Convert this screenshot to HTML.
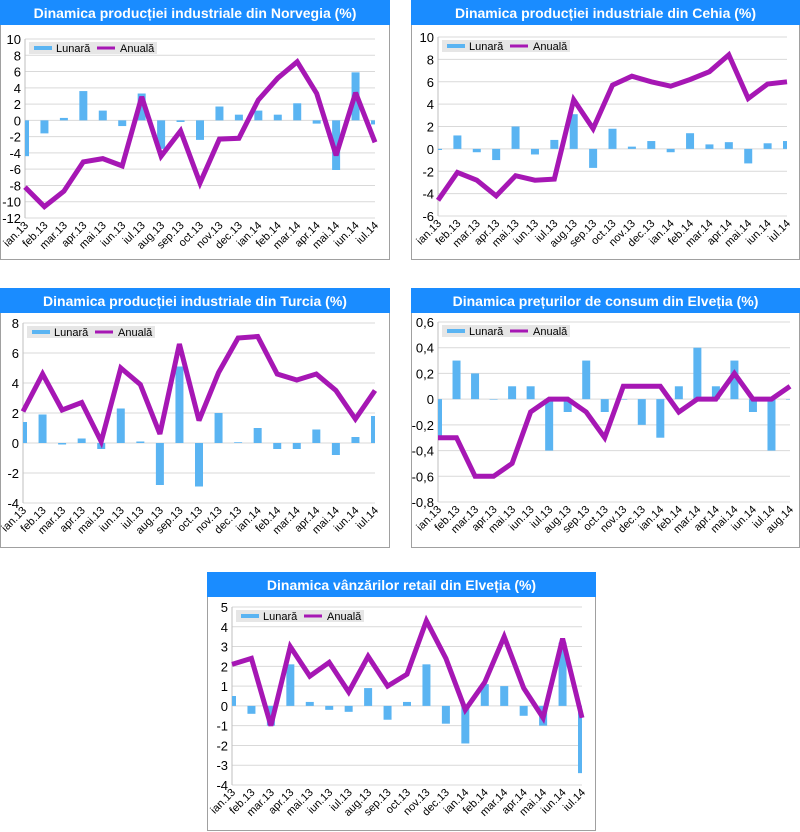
<!DOCTYPE html>
<html><head><meta charset="utf-8"><style>
html,body{margin:0;padding:0;background:#fff;}
svg{display:block;font-family:"Liberation Sans",sans-serif;}
</style></head><body>
<svg id="root" width="800" height="832" viewBox="0 0 800 832" xmlns="http://www.w3.org/2000/svg"></svg>
<script>
const cats19=["ian.13","feb.13","mar.13","apr.13","mai.13","iun.13","iul.13","aug.13","sep.13","oct.13","nov.13","dec.13","ian.14","feb.14","mar.14","apr.14","mai.14","iun.14","iul.14"];
const cats20=cats19.concat(["aug.14"]);

const norAnnual=[-8.2,-10.6,-8.7,-5.1,-4.7,-5.6,2.9,-4.4,-1.3,-7.7,-2.3,-2.2,2.5,5.2,7.2,3.3,-4.3,3.4,-2.7];
const norMonthly=[-4.4,-1.6,0.3,3.6,1.2,-0.7,3.3,-3.5,-0.2,-2.4,1.7,0.7,1.2,0.7,2.1,-0.4,-6.1,5.9,-0.5];
const norTicks=[10,8,6,4,2,0,-2,-4,-6,-8,-10,-12];

const czAnnual=[-4.6,-2.1,-2.8,-4.2,-2.4,-2.8,-2.7,4.4,1.8,5.7,6.5,6.0,5.6,6.2,6.9,8.4,4.5,5.8,6.0];
const czMonthly=[-0.1,1.2,-0.3,-1.0,2.0,-0.5,0.8,3.1,-1.7,1.8,0.2,0.7,-0.3,1.4,0.4,0.6,-1.3,0.5,0.7];
const czTicks=[10,8,6,4,2,0,-2,-4,-6];

const trAnnual=[2.1,4.6,2.2,2.7,0.1,5.0,3.9,0.6,6.6,1.5,4.7,7.0,7.1,4.6,4.2,4.6,3.5,1.6,3.5];
const trMonthly=[1.4,1.9,-0.1,0.3,-0.4,2.3,0.1,-2.8,5.1,-2.9,2.0,0.05,1.0,-0.4,-0.4,0.9,-0.8,0.4,1.8];
const trTicks=[8,6,4,2,0,-2,-4];

const cpiAnnual=[-0.3,-0.3,-0.6,-0.6,-0.5,-0.1,0,0,-0.1,-0.3,0.1,0.1,0.1,-0.1,0,0,0.2,0,0,0.1];
const cpiMonthly=[-0.3,0.3,0.2,0,0.1,0.1,-0.4,-0.1,0.3,-0.1,0,-0.2,-0.3,0.1,0.4,0.1,0.3,-0.1,-0.4,0];
const cpiTicks=["0,6","0,4","0,2","0","-0,2","-0,4","-0,6","-0,8"];
const cpiTickVals=[0.6,0.4,0.2,0,-0.2,-0.4,-0.6,-0.8];

const rtAnnual=[2.1,2.4,-1.0,3.0,1.5,2.2,0.7,2.5,1.0,1.6,4.3,2.4,-0.2,1.2,3.5,0.9,-0.6,3.4,-0.6];
const rtMonthly=[0.5,-0.4,-1.0,2.1,0.2,-0.2,-0.3,0.9,-0.7,0.2,2.1,-0.9,-1.9,1.1,1.0,-0.5,-1.0,3.2,-3.4];
const rtTicks=[5,4,3,2,1,0,-1,-2,-3,-4];

const NS="http://www.w3.org/2000/svg";
const root=document.getElementById('root');
function mk(tag,attrs,parent){const e=document.createElementNS(NS,tag);for(const k in attrs)e.setAttribute(k,attrs[k]);(parent||root).appendChild(e);return e;}

function chart(o){
  const g=mk('g',{});
  
  
  const panel=mk('rect',{x:o.px+0.5,y:o.py+0.5,width:o.pw-1,height:o.ph-1,fill:'#fff',stroke:'#a0a0a0'},g);
  
  
  const tb=mk('rect',{x:o.px,y:o.py,width:o.pw,height:25,fill:'#1a8cff'},g);
  
  
  const tt=mk('text',{x:o.px+o.pw/2,y:o.py+18,'text-anchor':'middle',fill:'#fff','font-size':14,'font-weight':'bold','font-family':'"Liberation Sans Narrow","Liberation Sans",sans-serif'},g);
  tt.textContent=o.title;
  
  
  const L=o.left,R=o.right,T=o.top,B=o.bottom;
  const vmax=o.tickVals[0],vmin=o.tickVals[o.tickVals.length-1];
  const y=v=>T+(vmax-v)/(vmax-vmin)*(B-T);
  const n=o.cats.length;
  const x=i=>L+i*(R-L)/(n-1);
  const clipId='clip'+o.name;
  const cp=mk('clipPath',{id:clipId},g);
  mk('rect',{x:L,y:T-5,width:R-L,height:B-T+10},cp);
  o.tickVals.forEach((v,i)=>{
    const gl=mk('line',{x1:L,x2:R,y1:y(v),y2:y(v),stroke:'#d9d9d9','stroke-width':1},g);
    
    
    const tl=mk('text',{x:L-4,y:y(v)+5,'text-anchor':'end','font-size':13,fill:'#000'},g);
    tl.textContent=o.tickLabels[i];
    
    
  });
  const ax=mk('line',{x1:L,x2:L,y1:T,y2:B,stroke:'#bfbfbf'},g);
  
  
  const bg=mk('g',{'clip-path':'url(#'+clipId+')'},g);
  const bw=8;
  o.monthly.forEach((v,i)=>{
    const y0=y(0),y1=y(v);
    const b=mk('rect',{x:x(i)-bw/2,y:Math.min(y0,y1),width:bw,height:Math.max(Math.abs(y1-y0),0.5),fill:'#5ab4f2'},bg);
    
    
  });
  const pts=o.annual.map((v,i)=>x(i).toFixed(1)+','+y(v).toFixed(1)).join(' ');
  const pl=mk('polyline',{points:pts,fill:'none',stroke:'#a617b4','stroke-width':5,'stroke-linejoin':'miter','stroke-miterlimit':3},g);
  
  
  o.cats.forEach((c,i)=>{
    const tx=x(i)+4,ty=B+8;
    const t=mk('text',{x:tx,y:ty,'text-anchor':'end','font-size':11,fill:'#000',transform:'rotate(-45 '+tx+' '+ty+')'},g);
    t.textContent=c;
    
    
  });
  const lx=L+4,ly=T+3;
  const lg=mk('g',{},g);
  
  
  mk('rect',{x:lx,y:ly,width:128,height:12,fill:'#e6e6e6'},lg);
  mk('rect',{x:lx+5,y:ly+4,width:18,height:4,fill:'#5ab4f2'},lg);
  const t1=mk('text',{x:lx+27,y:ly+10,'font-size':11,fill:'#000'},lg);t1.textContent='Lunară';
  
  
  mk('rect',{x:lx+68,y:ly+4.5,width:18,height:3,fill:'#a617b4'},lg);
  const t2=mk('text',{x:lx+91,y:ly+10,'font-size':11,fill:'#000'},lg);t2.textContent='Anuală';
  
  
}

chart({name:'chart-norvegia',title:'Dinamica producției industriale din Norvegia (%)',px:0,py:0,pw:390,ph:260,left:25,right:375,top:39,bottom:218,cats:cats19,annual:norAnnual,monthly:norMonthly,tickVals:norTicks,tickLabels:norTicks.map(String)});
chart({name:'chart-cehia',title:'Dinamica producției industriale din Cehia (%)',px:411,py:0,pw:389,ph:260,left:438,right:787,top:37,bottom:216,cats:cats19,annual:czAnnual,monthly:czMonthly,tickVals:czTicks,tickLabels:czTicks.map(String)});
chart({name:'chart-turcia',title:'Dinamica producției industriale din Turcia (%)',px:0,py:288,pw:390,ph:260,left:23,right:375,top:323,bottom:503,cats:cats19,annual:trAnnual,monthly:trMonthly,tickVals:trTicks,tickLabels:trTicks.map(String)});
chart({name:'chart-elvetia-cpi',title:'Dinamica prețurilor de consum din Elveția  (%)',px:411,py:288,pw:389,ph:260,left:438,right:790,top:322,bottom:502,cats:cats20,annual:cpiAnnual,monthly:cpiMonthly,tickVals:cpiTickVals,tickLabels:cpiTicks});
chart({name:'chart-elvetia-retail',title:'Dinamica vânzărilor retail  din Elveția  (%)',px:207,py:572,pw:389,ph:259,left:232,right:582,top:607,bottom:785,cats:cats19,annual:rtAnnual,monthly:rtMonthly,tickVals:rtTicks,tickLabels:rtTicks.map(String)});
</script>
</body></html>
